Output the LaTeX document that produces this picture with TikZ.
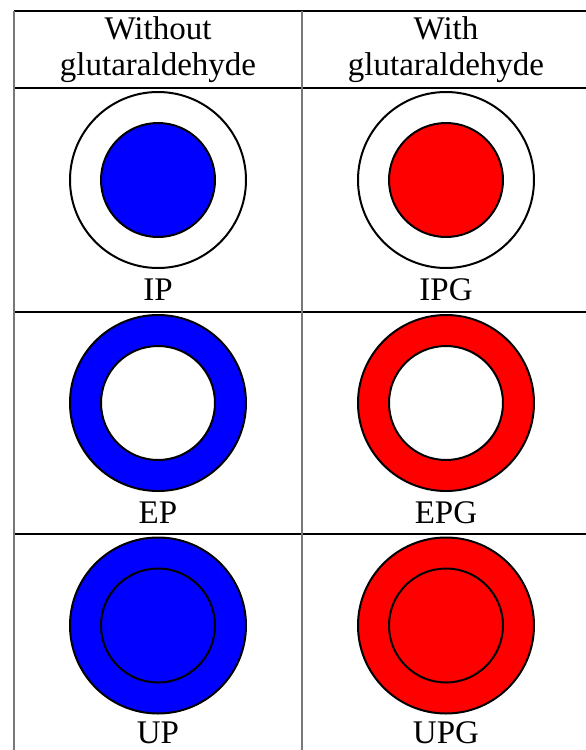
\documentclass[tikz,border=0pt]{standalone}
\usepackage{fontspec}
\setmainfont{Liberation Serif}
\definecolor{pblue}{RGB}{0,0,255}
\definecolor{pred}{RGB}{255,0,0}
\definecolor{vline}{RGB}{120,120,120}
\begin{document}
\begin{tikzpicture}[x=1pt,y=-1pt,
  hrule/.style={draw=black,line width=1.8pt},
  vrule/.style={draw=vline,line width=1.6pt},
  ring/.style={draw=black,line width=2pt},
  lbl/.style={anchor=base,inner sep=0pt,font=\fontsize{33}{33}\selectfont}]
\useasboundingbox (0,0) rectangle (586,750);
% table rules
\draw[hrule] (14,11) -- (586,11);
\draw[hrule] (14,88) -- (586,88);
\draw[hrule] (14,312) -- (586,312);
\draw[hrule] (14,534) -- (586,534);
\draw[vrule] (14,11) -- (14,750);
\draw[vrule] (302,11) -- (302,750);
% headers
\node[lbl] (h1a) at (158,39.5) {Without};
\node[lbl] (h1b) at (158,75) {glutaraldehyde};
\node[lbl] (h2a) at (446,39.5) {With};
\node[lbl] (h2b) at (446,75) {glutaraldehyde};
% row 1
\draw[ring,fill=white] (158,180) circle[radius=88];
\draw[ring,fill=pblue] (158,180) circle[radius=57];
\node[lbl] (ip) at (158,300) {IP};
\draw[ring,fill=white] (446,180) circle[radius=88];
\draw[ring,fill=pred] (446,180) circle[radius=57];
\node[lbl] (ipg) at (446,300) {IPG};
% row 2
\draw[ring,fill=pblue] (158,403) circle[radius=88];
\draw[ring,fill=white] (158,403) circle[radius=57];
\node[lbl] (ep) at (158,523.5) {EP};
\draw[ring,fill=pred] (446,403) circle[radius=88];
\draw[ring,fill=white] (446,403) circle[radius=57];
\node[lbl] (epg) at (446,523.5) {EPG};
% row 3
\draw[ring,fill=pblue] (158,625.5) circle[radius=88];
\draw[ring,fill=pblue] (158,625.5) circle[radius=57];
\node[lbl] (up) at (158,743) {UP};
\draw[ring,fill=pred] (446,625.5) circle[radius=88];
\draw[ring,fill=pred] (446,625.5) circle[radius=57];
\node[lbl] (upg) at (446,743) {UPG};
\end{tikzpicture}
\end{document}
